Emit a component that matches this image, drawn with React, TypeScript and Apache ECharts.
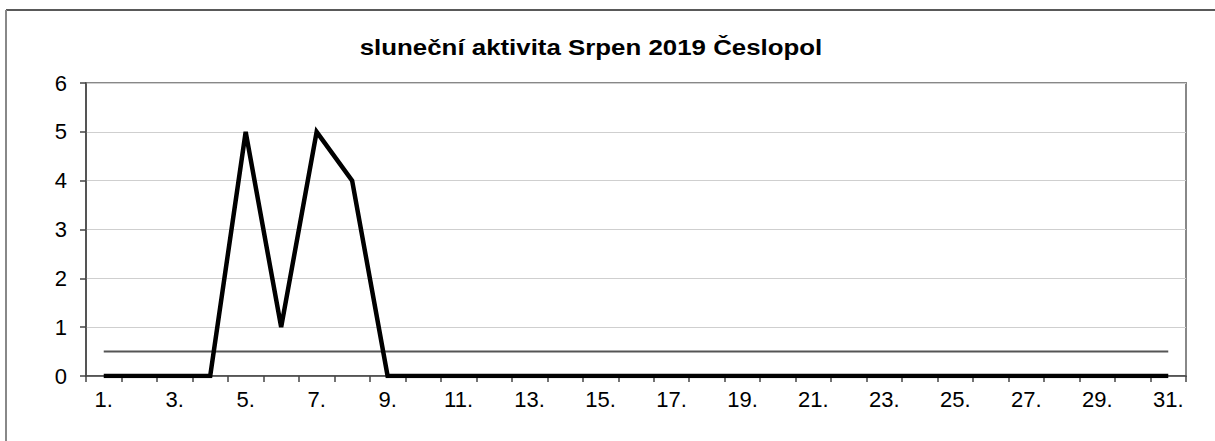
import React, { useEffect, useRef } from "react";
import * as echarts from "echarts";

const days = [
  "1.", "2.", "3.", "4.", "5.", "6.", "7.", "8.", "9.", "10.",
  "11.", "12.", "13.", "14.", "15.", "16.", "17.", "18.", "19.", "20.",
  "21.", "22.", "23.", "24.", "25.", "26.", "27.", "28.", "29.", "30.", "31.",
];

const activity = [
  0, 0, 0, 0, 5, 1, 5, 4, 0, 0,
  0, 0, 0, 0, 0, 0, 0, 0, 0, 0,
  0, 0, 0, 0, 0, 0, 0, 0, 0, 0, 0,
];

const threshold = [
  0.5, 0.5, 0.5, 0.5, 0.5, 0.5, 0.5, 0.5, 0.5, 0.5,
  0.5, 0.5, 0.5, 0.5, 0.5, 0.5, 0.5, 0.5, 0.5, 0.5,
  0.5, 0.5, 0.5, 0.5, 0.5, 0.5, 0.5, 0.5, 0.5, 0.5, 0.5,
];

const titleText = "sluneční aktivita Srpen 2019 Česlopol";

export default function App() {
  const ref = useRef<HTMLDivElement>(null);

  useEffect(() => {
    document.body.style.margin = "0";
    if (!ref.current) return;
    const chart = echarts.init(ref.current, undefined, { renderer: "svg" });
    const font = "'Liberation Sans', Arial, sans-serif";
    chart.setOption({
      animation: false,
      backgroundColor: "#ffffff",
      textStyle: { fontFamily: font },
      graphic: [
        {
          type: "line",
          shape: { x1: 6, y1: 10, x2: 1215, y2: 10 },
          style: { stroke: "#222", lineWidth: 1.5 },
          silent: true,
        },
        {
          type: "line",
          shape: { x1: 6, y1: 10, x2: 6, y2: 441 },
          style: { stroke: "#888", lineWidth: 2 },
          silent: true,
        },
        {
          type: "text",
          x: 591,
          y: 47,
          scaleX: 1.175,
          silent: true,
          style: {
            text: titleText,
            fontFamily: font,
            fontSize: 22,
            fontWeight: "bold",
            fill: "#000",
            textAlign: "center",
            textVerticalAlign: "middle",
          },
        },
      ],
      grid: {
        left: 86,
        top: 83,
        right: 29,
        bottom: 65,
        show: true,
        borderColor: "#888",
        borderWidth: 2,
        containLabel: false,
      },
      xAxis: {
        type: "category",
        data: days,
        boundaryGap: true,
        axisLine: { show: true, lineStyle: { color: "#444", width: 1.5 } },
        axisTick: {
          show: true,
          interval: 0,
          length: 6,
          alignWithLabel: false,
          lineStyle: { color: "#444", width: 1.5 },
        },
        axisLabel: {
          show: true,
          interval: 1,
          margin: 12,
          fontSize: 22,
          color: "#000",
          fontFamily: font,
          hideOverlap: false,
        },
        splitLine: { show: false },
      },
      yAxis: {
        type: "value",
        min: 0,
        max: 6,
        interval: 1,
        axisLine: { show: true, lineStyle: { color: "#444", width: 1.5 } },
        axisTick: {
          show: true,
          length: 6,
          inside: false,
          lineStyle: { color: "#444", width: 1.5 },
        },
        axisLabel: {
          show: true,
          margin: 19,
          fontSize: 22,
          color: "#000",
          fontFamily: font,
        },
        splitLine: { show: true, lineStyle: { color: "#cfcfcf", width: 1 } },
      },
      series: [
        {
          name: "threshold",
          type: "line",
          data: threshold,
          symbol: "none",
          lineStyle: { color: "#555", width: 2 },
          z: 2,
        },
        {
          name: "activity",
          type: "line",
          data: activity,
          symbol: "none",
          lineStyle: { color: "#000", width: 4.5, join: "miter" },
          z: 3,
        },
      ],
    });
    return () => chart.dispose();
  }, []);

  return <div ref={ref} style={{ width: 1215, height: 441 }} />;
}
